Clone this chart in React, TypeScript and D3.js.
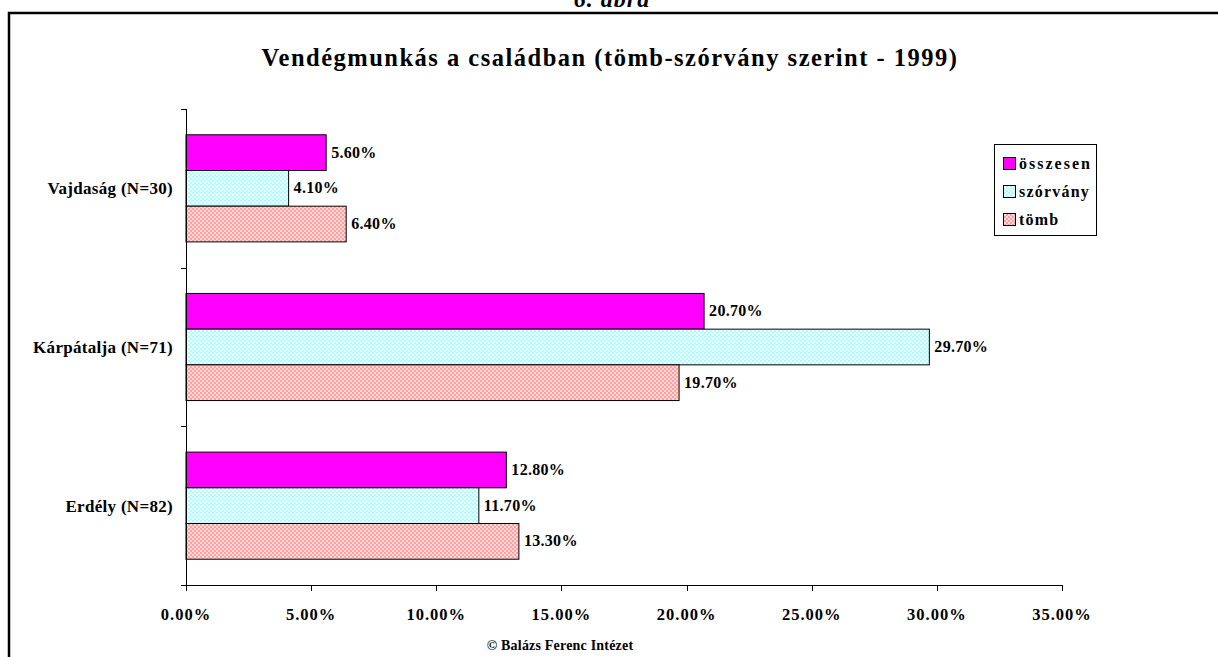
import React from "react";
import * as d3 from "d3";

const categories = ["Vajdaság (N=30)", "Kárpátalja (N=71)", "Erdély (N=82)"];
const seriesNames = ["összesen", "szórvány", "tömb"];
const osszesen = [5.6, 20.7, 12.8];
const szorvany = [4.1, 29.7, 11.7];
const tomb = [6.4, 19.7, 13.3];
const xTicks = [0, 5, 10, 15, 20, 25, 30, 35];

const W = 1218;
const H = 657;
const FONT = "'Liberation Serif', 'Times New Roman', serif";

export default function App() {
  const values = [osszesen, szorvany, tomb];
  const x = d3.scaleLinear().domain([0, 35]).range([186, 1062]);
  const y0 = d3.scaleBand<string>().domain(categories).range([109, 585]).paddingInner(0.325).paddingOuter(0.1625);
  const y1 = d3.scaleBand<string>().domain(seriesNames).range([0, y0.bandwidth()]);
  const fills = ["#ff00ff", "url(#patCyan)", "url(#patPink)"];
  const catTicks = d3.range(categories.length + 1).map((i) => 109 + (i * (585 - 109)) / categories.length);

  return (
    <svg width={W} height={H} style={{ position: "absolute", left: 0, top: 0, display: "block" }} fontFamily={FONT}>
      <defs>
        <pattern id="patCyan" width="4" height="4" patternUnits="userSpaceOnUse">
          <rect width="4" height="4" fill="#ffffff" />
          <rect x="0" y="0" width="2" height="2" fill="#a8ffff" />
          <rect x="2" y="2" width="2" height="2" fill="#a8ffff" />
          <rect x="2" y="0" width="1" height="1" fill="#d8ffff" />
        </pattern>
        <pattern id="patPink" width="4" height="4" patternUnits="userSpaceOnUse">
          <rect width="4" height="4" fill="#ffd8d8" />
          <rect x="0" y="0" width="2" height="2" fill="#ffa0a0" />
          <rect x="2" y="2" width="2" height="2" fill="#ffa0a0" />
        </pattern>
      </defs>
      <rect x={0} y={0} width={W} height={H} fill="#fff" />
      <text x={612} y={7} textAnchor="middle" fontSize={24} fontWeight="bold" fontStyle="italic" letterSpacing={1}>6. ábra</text>
      <rect x={9} y={13} width={W + 20} height={H + 20} fill="none" stroke="#000" strokeWidth={2.5} />
      <text x={610} y={66} textAnchor="middle" fontSize={24.5} fontWeight="bold" letterSpacing={1.5}>
        Vendégmunkás a családban (tömb-szórvány szerint - 1999)
      </text>

      {categories.map((c, ci) => (
        <g key={c}>
          {seriesNames.map((s, si) => {
            const v = values[si][ci];
            const yy = (y0(c) as number) + (y1(s) as number);
            const h = y1.bandwidth();
            return (
              <g key={s}>
                <rect x={x(0)} y={yy} width={x(v) - x(0)} height={h} fill={fills[si]} stroke="#000" strokeWidth={1} />
                <text x={x(v) + 5} y={yy + h / 2 + 5} fontSize={16} fontWeight="bold" letterSpacing={0.3}>
                  {v.toFixed(2)}%
                </text>
              </g>
            );
          })}
          <text x={173} y={(y0(c) as number) + y0.bandwidth() / 2 + 6} textAnchor="end" fontSize={17} fontWeight="bold" letterSpacing={0.3}>
            {c}
          </text>
        </g>
      ))}

      <line x1={186.5} x2={186.5} y1={109} y2={585} stroke="#000" strokeWidth={1} />
      {catTicks.map((t, i) => (
        <line key={i} x1={181} x2={186.5} y1={Math.round(t) + 0.5} y2={Math.round(t) + 0.5} stroke="#000" />
      ))}
      <line x1={181} x2={1062.5} y1={585.5} y2={585.5} stroke="#000" strokeWidth={1} />
      {xTicks.map((t) => (
        <g key={t}>
          <line x1={Math.round(x(t)) + 0.5} x2={Math.round(x(t)) + 0.5} y1={585} y2={591} stroke="#000" />
          <text x={x(t)} y={620} textAnchor="middle" fontSize={16.5} fontWeight="bold" letterSpacing={1}>
            {t.toFixed(2)}%
          </text>
        </g>
      ))}
      <text x={560} y={650} textAnchor="middle" fontSize={14} fontWeight="bold" letterSpacing={0.2}>© Balázs Ferenc Intézet</text>

      <g>
        <rect x={994.5} y={144.5} width={102} height={91} fill="#fff" stroke="#000" strokeWidth={1} />
        {seriesNames.map((s, i) => (
          <g key={s}>
            <rect x={1003.5} y={157.5 + i * 28} width={12} height={12} fill={fills[i]} stroke="#000" />
            <text x={1019} y={169 + i * 28} fontSize={16} fontWeight="bold" letterSpacing={i === 0 ? 2 : 1.2}>
              {s}
            </text>
          </g>
        ))}
      </g>
    </svg>
  );
}
